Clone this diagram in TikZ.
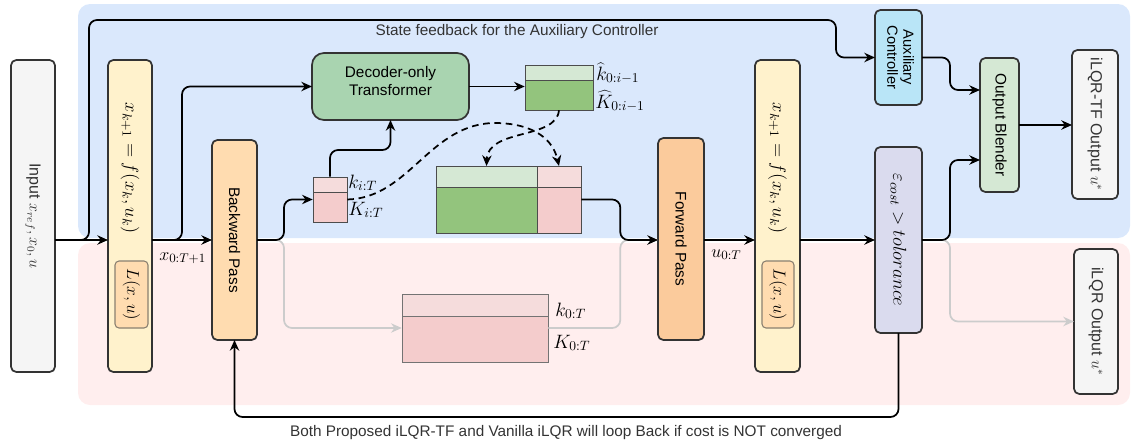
\RequirePackage{fix-cm}
\documentclass[tikz,border=0pt]{standalone}
\usepackage[no-math]{fontspec}
\setmainfont{Liberation Sans}
\usepackage{graphicx}
\usetikzlibrary{arrows.meta,fit,calc}

\definecolor{bgblue}{HTML}{DAE8FC}
\definecolor{bgpink}{HTML}{FFEEEE}
\definecolor{greyfill}{HTML}{F5F5F5}
\definecolor{dynfill}{HTML}{FFF2CC}
\definecolor{lossfill}{HTML}{FFDCB0}
\definecolor{lossedge}{HTML}{8A8070}
\definecolor{bwdfill}{HTML}{FFDCB0}
\definecolor{fwdfill}{HTML}{FBCB9C}
\definecolor{decfill}{HTML}{A9D4B0}
\definecolor{auxfill}{HTML}{B9E5F7}
\definecolor{blendfill}{HTML}{D5E8D4}
\definecolor{epsfill}{HTML}{DADBEE}
\definecolor{gainlight}{HTML}{D5E8D4}
\definecolor{gaindark}{HTML}{93C47D}
\definecolor{pinklight}{HTML}{F5DCDC}
\definecolor{pinkdark}{HTML}{F4CCCC}
\definecolor{edge}{HTML}{333333}
\definecolor{faded}{HTML}{CCCCCC}

\tikzset{
  blk/.style={draw=edge, line width=1.3pt, rounded corners=4pt, inner sep=0pt, outer sep=0pt},
  cell/.style={draw=black!70, line width=0.75pt, inner sep=0pt, outer sep=0pt},
  lossbox/.style={draw=lossedge, line width=0.8pt, rounded corners=3pt, fill=lossfill, inner sep=0pt},
  flow/.style={line width=1.3pt, rounded corners=6pt, -{Stealth[length=8pt,width=7pt]}},
  fadedflow/.style={flow, draw=faded, -{Stealth[length=8pt,width=7pt,color=faded]}},
  dashflow/.style={line width=1.3pt, dash pattern=on 5pt off 3.5pt, -{Stealth[length=8pt,width=7pt]}},
  lbl/.style={font=\fontsize{14.5}{16}\selectfont, inner sep=0pt, anchor=base west},
  eqn/.style={rotate=-90, font=\fontsize{14}{16}\selectfont, inner sep=0pt},
  note/.style={text=edge, inner sep=0pt},
}

\begin{document}
\begin{tikzpicture}[x=0.75pt, y=-0.75pt, font=\fontsize{11.5}{14}\selectfont]
  \useasboundingbox (0,0) rectangle (1132,443);

  % backgrounds
  \fill[bgblue, rounded corners=9pt] (78,4) rectangle (1130,238);
  \fill[bgpink, rounded corners=9pt] (78,243) rectangle (1130,405);
  \coordinate (ml) at (0,240);

  % input and dynamics
  \node[blk, fill=greyfill, text=edge, fit={(11,60) (55,372)}] (in)
    {\rotatebox{-90}{\fontsize{12}{14}\selectfont Input $x_{ref}, x_0, u$}};
  \node[blk, fill=dynfill, fit={(108,60) (152,372)}] (dyn1) {};
  \node[eqn] (eq1) at (130,168) {$x_{k+1} = f(x_k, u_k)$};
  \node[lossbox, fit={(115,261) (148,328)}] (loss1)
    {\rotatebox{-90}{\fontsize{13}{15}\selectfont$L(x,u)$}};

  % backward pass and transformer
  \node[blk, fill=bwdfill, fit={(212,140) (257,340)}] (bp) {\rotatebox{-90}{Backward Pass}};
  \node[blk, rounded corners=9pt, fill=decfill, align=center, fit={(312,53) (469,120)}] (dec)
    {Decoder-only\\Transformer};

  % gain blocks
  \node[cell, fill=gainlight, fit={(525,65) (593,80)}] (kh1) {};
  \node[cell, fill=gaindark, fit={(525,80) (593,110)}] (kh2) {};
  \node[fit=(kh1)(kh2), inner sep=0pt] (khb) {};
  \node[cell, fill=pinklight, fit={(313,177) (347,192)}] (ki1) {};
  \node[cell, fill=pinkdark, fit={(313,192) (347,222)}] (ki2) {};
  \node[fit=(ki1)(ki2), inner sep=0pt] (kib) {};
  \node[cell, fill=gainlight, fit={(436,166) (537,187)}] (bg1) {};
  \node[cell, fill=pinklight, fit={(537,166) (581,187)}] (bg2) {};
  \node[cell, fill=gaindark, fit={(436,187) (537,233)}] (bg3) {};
  \node[cell, fill=pinkdark, fit={(537,187) (581,233)}] (bg4) {};
  \node[fit=(bg1)(bg4), inner sep=0pt] (bgb) {};
  \node[cell, draw=black!55, fill=pinklight, fit={(402,294) (548,316)}] (k01) {};
  \node[cell, draw=black!55, fill=pinkdark, fit={(402,316) (548,362)}] (k02) {};
  \node[fit=(k01)(k02), inner sep=0pt] (k0b) {};

  \node[lbl] (lkh) at ($(kh1.east)+(3,7.5)$) {$\widehat{k}_{0:i-1}$};
  \node[lbl] (lKh) at ($(kh2.east)+(2,13)$) {$\widehat{K}_{0:i-1}$};
  \node[lbl] (lki) at ($(ki1.east)+(1,3.5)$) {$k_{i:T}$};
  \node[lbl] (lKi) at ($(ki2.east)+(1,8)$) {$K_{i:T}$};
  \node[lbl] (lk0) at ($(k01.east)+(7,11)$) {$k_{0:T}$};
  \node[lbl] (lK0) at ($(k02.east)+(5,9)$) {$K_{0:T}$};

  % forward pass and second rollout
  \node[blk, fill=fwdfill, fit={(658,138) (704,340)}] (fp) {\rotatebox{-90}{Forward Pass}};
  \node[blk, fill=dynfill, fit={(755,60) (800,372)}] (dyn2) {};
  \node[eqn] (eq2) at (777.5,168) {$x_{k+1} = f(x_k, u_k)$};
  \node[lossbox, fit={(762,261) (794,328)}] (loss2)
    {\rotatebox{-90}{\fontsize{13}{15}\selectfont$L(x,u)$}};
  \node[blk, fill=epsfill, fit={(875,147) (922,333)}] (eps)
    {\rotatebox{-90}{\fontsize{14}{16}\selectfont$\varepsilon_{cost} > tolorance$}};

  % outputs
  \node[blk, fill=auxfill, fit={(875,10) (922,105)}] (aux)
    {\rotatebox{-90}{\fontsize{11}{12}\selectfont\begin{tabular}{@{}c@{}}Auxiliary\\Controller\end{tabular}}};
  \node[blk, fill=blendfill, fit={(980,58) (1019,192)}] (ob) {\rotatebox{-90}{Output Blender}};
  \node[blk, fill=greyfill, text=edge, fit={(1072,50) (1118,199)}] (tf)
    {\rotatebox{-90}{\fontsize{12}{14}\selectfont iLQR-TF Output $u^*$}};
  \node[blk, fill=greyfill, text=edge, fit={(1074,249) (1118,394)}] (ilqr)
    {\rotatebox{-90}{\fontsize{12}{14}\selectfont iLQR Output $u^*$}};

  % branch points
  \coordinate (fbl) at (89,20);
  \coordinate (fbr) at (836,20);
  \coordinate (br1) at (182,240);
  \coordinate (br2) at (284,240);
  \coordinate (br3) at (950,240);

  % faded vanilla path
  \draw[fadedflow] (bp.east |- ml) -- (br2) |- (k0b.west);
  \draw[fadedflow] (k0b.east) -- ++(72,0) |- (fp.west |- ml);
  \draw[fadedflow] (eps.east |- ml) -- (br3) |- (ilqr.west);

  % main flow
  \draw[flow] (in.east |- ml) -- (dyn1.west |- ml);
  \draw[flow] (in.east |- ml) -| (fbl) -- (fbr) |- (aux.west);
  \draw[flow] (dyn1.east |- ml) -- (bp.west |- ml);
  \draw[flow] (dyn1.east |- ml) -- (br1) |- (dec.west);
  \draw[flow] (dec.east) -- (dec.east -| khb.west);
  \draw[flow] (bp.east |- ml) -- (br2) |- (kib.west);
  \draw[flow] (kib.north) |- ($(dec.south)+(0,30)$) -- (dec.south);
  \draw[dashflow] (kib.east) .. controls (410,198) and (430,122) .. (497,123)
    .. controls (535,124) and (553,140) .. (bg2.north);
  \draw[dashflow] (khb.south) .. controls (556,140) and (488,128) .. (bg1.north);
  \draw[flow] (bgb.east) -- ++(39,0) |- (fp.west |- ml);
  \draw[flow] (fp.east |- ml) -- (dyn2.west |- ml);
  \draw[flow] (dyn2.east |- ml) -- (eps.west |- ml);
  \draw[flow] (eps.east |- ml) -- (br3) |- ($(ob.west)+(0,35)$);
  \draw[flow] (aux.east) -- ++(28,0) |- ($(ob.west)+(0,-35)$);
  \draw[flow] (ob.east) -- (ob.east -| tf.west);
  \draw[flow] (eps.south) -- ++(0,84) -| (bp.south);

  % texts
  \node[lbl, font=\fontsize{13.5}{15}\selectfont] (lx) at (159,260) {$x_{0:T+1}$};
  \node[lbl, font=\fontsize{13.5}{15}\selectfont] (lu) at (711,257) {$u_{0:T}$};
  \node[note] (fbtext) at (517,32) {State feedback for the Auxiliary Controller};
  \node[note] (looptext) at (566,433) {Both Proposed iLQR-TF and Vanilla iLQR will loop Back if cost is NOT converged};
\end{tikzpicture}
\end{document}
